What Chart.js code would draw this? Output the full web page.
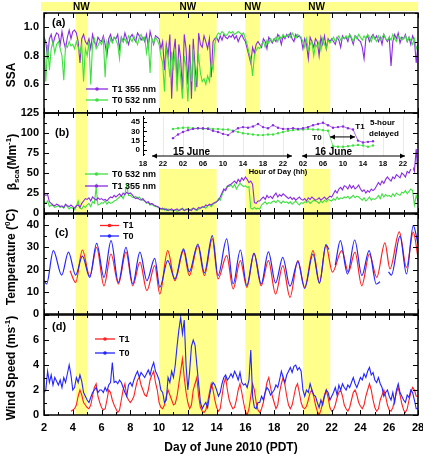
<!DOCTYPE html>
<html><head><meta charset="utf-8">
<script src="https://cdn.jsdelivr.net/npm/chart.js@4.4.1/dist/chart.umd.min.js"></script>
<style>
html,body{margin:0;padding:0;background:#fff;}
#wrap{position:relative;width:423px;height:456px;overflow:hidden;background:#fff;font-family:"Liberation Sans",Arial,sans-serif;}
canvas{position:absolute;left:0;}
.yt{position:absolute;white-space:nowrap;font-weight:bold;font-size:12px;line-height:14px;transform:translate(-50%,-50%) rotate(-90deg);color:#000;}
.yt sub,.yt sup{font-size:8px;line-height:0;}
</style></head>
<body><div id="wrap">
<canvas id="cA" width="423" height="125" style="top:0px"></canvas>
<canvas id="cB" width="423" height="124" style="top:101px"></canvas>
<canvas id="cC" width="423" height="124" style="top:202px"></canvas>
<canvas id="cD" width="423" height="153" style="top:303px"></canvas>
<canvas id="cI" width="305" height="66" style="top:112px;left:118px"></canvas>
<div class="yt" style="left:11px;top:75px">SSA</div>
<div class="yt" style="left:12px;top:162px">&beta;<sub>sca</sub>(Mm<sup>-1</sup>)</div>
<div class="yt" style="left:11px;top:257px">Temperature (<sup>0</sup>C)</div>
<div class="yt" style="left:11px;top:368px">Wind Speed (ms<sup>-1</sup>)</div>
</div>
<script>
// ---------------- DATA ----------------
// 3-hourly samples starting at day 2.0 of June 2010
const sampleStart = 2, sampleStep = 0.125;
const dayLabels = [2,4,6,8,10,12,14,16,18,20,22,24,26,28];
const nwStart = [4.2, 10.0, 16.0, 20.0];
const nwEnd   = [5.0, 14.0, 17.0, 21.9];
const nwLabel = 'NW';

const ssaTicks = [0.6, 0.8, 1.0];
const bscaTicks = [0, 25, 50, 75, 100, 125];
const tempTicks = [0, 10, 20, 30, 40];
const windTicks = [0, 2, 4, 6];

const ssaT1 = [
.93,.90,.78,.92,.95,.88,.93,.96,
.95,.88,.97,.90,.85,.93,.98,.92,
.97,.98,.96,.90,.75,.92,.95,.90,
.88,.92,.85,.95,.90,.87,.93,.91,
.90,.94,.88,.80,.92,.95,.90,.93,
.92,.95,.85,.93,.90,.96,.92,.88,
.93,.95,.92,.90,.96,.94,.91,.93,
.90,.95,.86,.97,.92,.88,.94,.93,
.92,.85,.90,.70,.88,.80,.95,.50,
.82,.92,.60,.88,.78,.55,.95,.85,
.60,.88,.50,.92,.72,.58,.96,.88,
.86,.94,.90,.85,.92,.65,.90,.92,
.93,.90,.94,.91,.95,.93,.92,.94,
.93,.95,.92,.94,.90,.93,.95,.92,
.90,.85,.80,.75,.86,.82,.88,.90,
.88,.86,.92,.90,.85,.93,.91,.89,
.92,.90,.95,.93,.88,.94,.92,.95,
.93,.96,.92,.90,.95,.93,.94,.92,
.85,.92,.88,.78,.93,.90,.86,.92,
.90,.80,.93,.88,.94,.85,.92,.90,
.92,.90,.88,.93,.91,.86,.94,.92,
.93,.90,.95,.92,.88,.94,.93,.91,
.90,.86,.78,.92,.94,.90,.93,.95,
.92,.94,.90,.93,.88,.95,.92,.90,
.93,.73,.90,.95,.92,.96,.89,.93,
.92,.95,.90,.93,.88,.94,.91,.75,
.88];
const ssaT0 = [
.93,.62,.88,.70,.85,.90,.82,.88,
.90,.85,.80,.63,.88,.86,.90,.87,
.88,.85,.90,.86,.82,.88,.62,.85,
.80,.90,.60,.88,.92,.85,.87,.90,
.88,.92,.65,.90,.86,.92,.89,.93,
.91,.88,.78,.93,.90,.92,.89,.94,
.92,.90,.94,.91,.88,.93,.95,.91,
.93,.82,.90,.68,.92,.89,.93,.91,
.88,.80,.75,.55,.85,.78,.65,.83,
.70,.85,.55,.78,.65,.50,.80,.72,
.48,.75,.62,.85,.55,.70,.80,.68,
.62,.64,.60,.66,.62,.75,.70,.88,
.94,.96,.95,.97,.96,.94,.95,.97,
.96,.97,.95,.96,.97,.96,.95,.96,
.92,.88,.82,.78,.66,.80,.84,.86,
.85,.88,.90,.86,.91,.89,.92,.90,
.91,.93,.90,.94,.92,.95,.93,.94,
.95,.93,.96,.94,.92,.95,.94,.93,
.90,.86,.92,.84,.88,.90,.80,.88,
.86,.90,.84,.92,.88,.85,.91,.89,
.91,.93,.90,.92,.94,.91,.93,.92,
.94,.92,.95,.93,.90,.94,.92,.95,
.93,.91,.94,.92,.95,.93,.90,.94,
.92,.90,.94,.91,.93,.95,.92,.91,
.93,.91,.95,.92,.90,.94,.93,.91,
.92,.94,.90,.93,.91,.88,.92,.85,
.88];

const bscaT0 = [
14,12,15,8,10,9,7,8,
9,7,8,6,10,8,5,7,
6,4,8,15,6,5,9,7,
10,12,8,14,12,32,10,11,
13,12,15,11,14,12,13,15,
16,18,20,22,18,24,35,22,
22,20,19,21,18,20,17,16,
15,12,13,10,11,9,8,8,
6,5,4,6,3,5,4,3,
3,4,2,3,5,4,3,5,
4,3,5,6,4,3,5,6,
7,8,6,9,10,8,11,12,
14,18,16,22,28,30,34,33,
35,32,36,30,34,37,35,33,
34,32,33,6,5,7,5,6,
5,10,12,14,11,13,12,14,
15,13,16,14,12,15,13,14,
12,14,11,13,15,12,10,13,
12,14,13,15,12,14,16,15,
14,12,15,13,16,14,17,16,
15,18,16,20,17,19,18,20,
19,21,18,20,22,19,21,20,
18,16,19,15,17,20,16,18,
17,19,22,18,24,20,23,21,
22,20,24,21,25,23,22,26,
25,28,24,27,30,28,10,22,
15];
const bscaT1 = [
24,22,23,14,12,10,9,11,
10,8,9,7,11,9,8,10,
8,6,9,10,7,12,15,18,
17,19,15,20,18,16,19,17,
18,16,17,15,18,20,19,22,
20,22,24,21,25,23,26,24,
25,23,20,18,19,17,16,18,
15,13,14,11,12,10,9,8,
7,5,6,4,5,3,4,5,
3,4,5,3,4,6,3,4,
5,4,3,6,5,4,7,6,
8,7,10,9,11,10,12,13,
14,16,20,25,30,28,33,35,
36,38,40,37,42,39,44,41,
45,42,38,40,36,13,12,15,
15,18,20,17,22,19,21,18,
22,25,20,23,21,24,22,20,
18,20,17,19,16,18,20,17,
16,18,15,19,17,20,18,16,
17,19,16,18,20,17,19,21,
20,24,28,25,30,32,29,34,
33,30,35,31,34,30,32,35,
30,27,29,25,28,26,30,28,
30,34,38,35,40,37,42,45,
42,40,45,43,48,46,44,50,
48,45,52,50,55,58,52,80,
48];

const tDaysT0 = [2.0,2.18,2.65,3.23,3.7,4.2,4.67,5.18,5.66,6.17,6.66,7.17,7.7,8.17,8.67,9.15,9.7,10.05,10.6,11.1,11.7,12.1,12.7,13.15,13.7,14.1,14.7,15.15,15.65,16.1,16.6,17.1,17.6,18.1,18.6,19.1,19.65,20.12,20.7,21.15,21.6,21.8,22.0,22.25,22.6,23.1,23.6,24.1,24.6,25.1,25.36,25.6,25.95,26.15,26.75,27.2,27.67,28.0];
const tempT0 = [15,13.5,28.5,17.5,27.8,17.5,26,16.5,31.8,16.5,33,14.2,30,13.5,27.8,15,25,12,24,15.8,29.3,19,31.5,18.5,35.3,17.3,33.8,13.5,28.8,12.8,27.3,13.5,28,14,25.5,12.5,23.6,11.5,27,13.8,31.2,29,null,22,33,18,33.3,17.3,28.5,13.5,14.5,null,19,17.5,35,18,39.8,31.5];
const tDaysT1 = [3.81,4.2,4.67,5.18,5.66,6.17,6.66,7.17,7.7,8.17,8.67,9.15,9.7,10.05,10.6,11.1,11.7,12.1,12.7,13.15,13.7,14.1,14.7,15.15,15.65,16.1,16.6,17.1,17.6,18.1,18.6,19.1,19.65,20.12,20.7,21.15,21.6,22.05,22.7,23.16,23.62,24.09,24.62,25.13,25.7,26.05,26.7,27.2,27.67,28.0];
const tempT1 = [19.5,14.2,28.8,17,30,12.7,27,13.5,27.8,12.7,23.3,10.5,21.8,9,28.5,15,28.5,17.3,30.8,17.3,33.8,15.8,26.3,11.3,24,12,27.3,12.7,24,9,21.8,7.5,24,12,28.5,14.2,30.8,18.8,28.5,18.8,27.8,12.7,27,16.5,32,20.3,37,21,36.8,25.5];

const windT0 = [
1.8,2.0,3.5,2.6,3.2,2.4,3.0,2.7,
2.4,2.8,2.2,3.0,2.6,3.3,4.0,3.2,
2.0,2.2,3.0,2.6,3.2,2.7,1.8,1.5,
1.2,1.0,1.4,1.8,2.0,2.2,1.8,2.0,
2.0,1.8,2.2,1.9,2.4,2.6,4.2,2.6,
2.7,2.5,2.8,2.6,2.2,1.8,1.5,2.4,
2.6,2.3,2.8,3.2,3.5,3.0,3.4,3.2,
3.0,3.3,3.6,3.2,3.8,4.2,3.5,3.2,
2.8,2.0,1.8,1.0,1.2,3.0,2.6,3.5,
3.0,4.0,5.5,6.8,7.8,6.5,7.6,4.0,
2.0,3.5,5.5,6.0,5.6,4.0,2.5,1.0,
0.5,0.8,1.0,0.6,1.5,2.2,2.6,2.4,
2.0,1.5,1.8,2.5,3.0,3.2,2.8,3.0,
3.3,3.0,3.5,3.2,2.8,3.4,2.6,2.4,
2.5,2.2,2.8,5.2,1.5,0.6,0.5,1.0,
1.0,1.5,1.2,1.8,2.2,2.0,1.6,1.8,
2.0,2.4,2.2,2.8,3.5,3.0,2.6,3.2,
3.5,3.8,3.4,3.9,4.0,3.6,3.8,3.5,
2.0,1.5,2.0,1.8,2.5,2.0,1.6,1.5,
1.0,0.6,1.2,0.8,1.5,2.0,1.8,1.2,
1.5,1.8,2.2,1.6,2.4,2.0,2.5,2.2,
2.0,2.4,2.2,2.6,3.0,2.5,2.2,2.6,
3.0,2.8,3.3,3.0,3.5,3.8,3.2,3.4,
2.8,2.6,3.0,2.5,2.2,1.5,1.8,2.0,
1.5,1.2,1.8,1.0,2.0,2.5,1.8,1.5,
1.2,1.0,1.6,1.4,2.0,1.8,1.2,0.5,
0.5];
const windT1 = [
null,null,null,null,null,null,null,null,
null,null,null,null,null,null,null,0.3,
0.4,0.5,0.8,1.5,2.0,1.6,1.0,0.8,
0.6,0.5,0.8,1.5,2.2,2.5,1.5,1.0,
0.6,0.4,0.5,1.2,2.0,1.8,1.2,0.8,
0.5,0.2,0.4,1.2,2.0,2.5,1.5,1.2,
1.0,1.2,1.5,2.2,2.8,3.0,2.4,2.0,
1.6,1.5,2.0,2.8,3.2,3.5,2.6,2.0,
1.0,0.6,0.5,0.8,1.5,2.0,1.6,1.2,
0.8,0.9,1.5,2.5,3.5,4.5,3.0,1.8,
1.0,0.5,0.8,2.0,2.5,3.0,1.5,0.6,
0.3,0.2,0.4,1.0,1.8,2.5,2.0,1.2,
0.6,0.3,0.5,1.5,2.5,3.0,2.0,1.2,
0.8,0.5,0.6,1.2,2.0,2.5,1.8,1.0,
0.3,0.0,0.5,1.5,2.5,2.0,1.0,0.4,
0.2,0.5,1.0,1.8,2.6,3.0,2.2,1.5,
1.0,0.5,0.8,1.8,2.5,3.0,2.4,1.5,
0.8,0.5,0.8,1.5,2.2,2.5,1.8,1.0,
0.6,0.5,0.7,1.2,1.8,2.0,1.5,0.8,
0.3,0.0,0.4,1.0,1.6,2.0,1.4,0.6,
0.3,0.4,0.8,1.4,1.8,2.0,1.5,0.8,
0.5,0.3,0.6,1.2,1.8,2.0,1.6,1.0,
0.7,0.5,0.8,1.5,2.0,2.5,2.0,1.2,
0.6,0.3,0.5,1.2,1.6,2.0,1.5,0.8,
0.4,0.3,0.6,1.2,1.8,2.2,1.6,0.9,
0.4,0.2,0.5,1.2,1.8,2.2,2.0,1.5,
1.5];

// inset: hours since 14 June 00:00
const insetHours = [24,25,26,27,28,29,30,31,32,33,34,35,36,37,38,39,40,41,42,43,44,45,46,47,48,49,50,51,52,53,54,55,56,57,58,59,60,61,62,63,64];
const insetT0 = [34,35,36,36,35,35,34,35,34,34,33,33,31,29,27,26,25,24,24,25,25,27,29,31,32,33,33,34,33,33,32,31,6,5,5,6,7,8,7,5,7];
const insetT1 = [19,25,29,32,34,35,35,34,31,29,26,24,30,35,37,36,38,42,37,35,40,36,34,34,35,34,35,37,40,42,44,40,36,37,38,35,33,15,12,13,14];
const insetTickHours = [18,22,26,30,34,38,42,46,50,54,58,62,66,70];
const insetYTicks = [0, 15, 30, 45];

// ---------------- STYLE ----------------
const FONT = '"Liberation Sans", Arial, sans-serif';
const YELLOW = '#ffff8c';
const PURPLE = '#8a2be2', GREEN = '#3fe03f', RED = '#ff2020', BLUE = '#2424ff';
Chart.defaults.font.family = FONT;
Chart.defaults.font.weight = 'bold';
Chart.defaults.color = '#000';

const sampleDays = ssaT1.map((_, i) => sampleStart + i * sampleStep);
const pts = (days, vals) => days.map((d, i) => ({x: d, y: vals[i]}));

const deco = {
  cA: {label:'(a)', lx:8, ly:10, topBar:true, major:[0.4,0.6,0.8,1.0], minorFrom:0.4, minorStep:0.1, minorN:7,
       legend:[{text:'T1 355 nm', color:PURPLE, x0:42, x1:64, y:76},{text:'T0 532 nm', color:GREEN, x0:42, x1:64, y:87}]},
  cB: {label:'(b)', lx:11, ly:20, major:bscaTicks, minorFrom:0, minorStep:12.5, minorN:10,
       legend:[{text:'T0 532 nm', color:GREEN, x0:41, x1:64, y:61},{text:'T1 355 nm', color:PURPLE, x0:41, x1:64, y:73}]},
  cC: {label:'(c)', lx:11, ly:19, major:[0,10,20,30,40], minorFrom:0, minorStep:5, minorN:9,
       legend:[{text:'T1', color:RED, x0:56, x1:75, y:11.5},{text:'T0', color:BLUE, x0:56, x1:75, y:22}]},
  cD: {label:'(d)', lx:8, ly:12, major:[0,2,4,6,8], minorFrom:0, minorStep:1, minorN:8,
       legend:[{text:'T1', color:RED, x0:51, x1:71, y:24},{text:'T0', color:BLUE, x0:51, x1:71, y:38}]}
};

const panelPlugin = {
  id: 'panelDeco',
  beforeDatasetsDraw(chart) {
    const {ctx, chartArea: ca, scales: {x}} = chart;
    ctx.save();
    ctx.fillStyle = YELLOW;
    nwStart.forEach((s, i) => {
      const x0 = x.getPixelForValue(s), x1 = x.getPixelForValue(nwEnd[i]);
      ctx.fillRect(x0, ca.top, x1 - x0, ca.bottom - ca.top);
    });
    ctx.restore();
  },
  afterDatasetsDraw(chart) {
    const o = deco[chart.canvas.id];
    const {ctx, chartArea: ca, scales: {x, y}} = chart;
    ctx.save();
    ctx.strokeStyle = '#000'; ctx.lineWidth = 1;
    ctx.beginPath();
    for (let d = 2; d <= 28; d++) {
      const px = Math.round(x.getPixelForValue(d)) + 0.5;
      const len = d % 2 === 0 ? 5 : 3;
      ctx.moveTo(px, ca.bottom); ctx.lineTo(px, ca.bottom - len);
      ctx.moveTo(px, ca.top); ctx.lineTo(px, ca.top + len);
    }
    for (let k = 0; k <= o.minorN; k++) {
      const v = o.minorFrom + k * o.minorStep;
      const py = Math.round(y.getPixelForValue(v)) + 0.5;
      const major = o.major.some(m => Math.abs(m - v) < 1e-6);
      const len = major ? 5 : 3;
      ctx.moveTo(ca.left, py); ctx.lineTo(ca.left + len, py);
      ctx.moveTo(ca.right, py); ctx.lineTo(ca.right - len, py);
    }
    ctx.stroke();
    ctx.lineWidth = 1.5;
    ctx.strokeRect(ca.left, ca.top, ca.right - ca.left, ca.bottom - ca.top);
    ctx.fillStyle = '#000';
    ctx.font = 'bold 11px ' + FONT;
    ctx.textBaseline = 'middle'; ctx.textAlign = 'left';
    ctx.fillText(o.label, ca.left + o.lx, ca.top + o.ly);
    ctx.font = 'bold 9px ' + FONT;
    o.legend.forEach(it => {
      const yy = ca.top + it.y;
      ctx.strokeStyle = it.color; ctx.lineWidth = 1.3;
      ctx.beginPath(); ctx.moveTo(ca.left + it.x0, yy); ctx.lineTo(ca.left + it.x1, yy); ctx.stroke();
      ctx.fillStyle = it.color;
      ctx.beginPath(); ctx.arc(ca.left + (it.x0 + it.x1) / 2, yy, 1.8, 0, Math.PI * 2); ctx.fill();
      ctx.fillStyle = '#000';
      ctx.fillText(it.text, ca.left + it.x1 + 4, yy + 0.5);
    });
    if (o.topBar) {
      ctx.fillStyle = YELLOW;
      ctx.fillRect(ca.left - 3, 2, ca.right - ca.left + 3, 9);
      ctx.fillStyle = '#000';
      ctx.font = 'bold 10px ' + FONT;
      ctx.textAlign = 'center';
      nwStart.forEach((s, i) => {
        ctx.fillText(nwLabel, x.getPixelForValue((s + nwEnd[i]) / 2), 7);
      });
    }
    ctx.restore();
  }
};

function yAxis(min, max, ticks, fmt) {
  return {
    min, max,
    afterBuildTicks: s => { s.ticks = ticks.map(v => ({value: v})); },
    afterFit: s => { s.width = 44; s.paddingTop = 0; s.paddingBottom = 0; },
    grid: {display: false, drawTicks: false}, border: {display: false},
    ticks: {padding: 5, autoSkip: false, color: '#000', font: {size: 11, weight: 'bold', family: FONT}, callback: v => fmt(v)}
  };
}
const hiddenX = {type: 'linear', min: 2, max: 28, display: false};

function panel(id, datasets, y, padTop, padBottom, x) {
  return new Chart(document.getElementById(id), {
    type: 'line',
    data: {datasets},
    options: {
      responsive: false, animation: false, events: [],
      layout: {padding: {top: padTop, bottom: padBottom, left: 0, right: 5}},
      plugins: {legend: {display: false}, tooltip: {enabled: false}},
      scales: {x: x || hiddenX, y},
      elements: {point: {radius: 0}}
    },
    plugins: [panelPlugin]
  });
}
const ds = (data, color, w, extra) => Object.assign({data, borderColor: color, backgroundColor: color, borderWidth: w, pointRadius: 0, spanGaps: false}, extra || {});

panel('cA', [
  ds(pts(sampleDays, ssaT0), GREEN, 1.1),
  ds(pts(sampleDays, ssaT1), PURPLE, 1.1)
], yAxis(0.4, 1.1, ssaTicks, v => v.toFixed(1)), 13, 12);

panel('cB', [
  ds(pts(sampleDays, bscaT1), PURPLE, 1.1),
  ds(pts(sampleDays, bscaT0), GREEN, 1.1)
], yAxis(0, 125, bscaTicks, v => String(v)), 12, 12);

panel('cC', [
  ds(pts(tDaysT0, tempT0), BLUE, 1.2, {cubicInterpolationMode: 'monotone'}),
  ds(pts(tDaysT1, tempT1), RED, 1.2, {cubicInterpolationMode: 'monotone'})
], yAxis(0, 45, tempTicks, v => String(v)), 12, 12);

panel('cD', [
  ds(pts(sampleDays, windT0), BLUE, 1.1),
  ds(pts(sampleDays, windT1), RED, 1.1)
], yAxis(0, 8, windTicks, v => String(v)), 12, 0, {
  type: 'linear', min: 2, max: 28,
  afterBuildTicks: s => { s.ticks = dayLabels.map(v => ({value: v})); },
  afterFit: s => { s.height = 41; s.paddingLeft = 0; s.paddingRight = 0; },
  grid: {display: false, drawTicks: false}, border: {display: false},
  ticks: {padding: 6, autoSkip: false, maxRotation: 0, color: '#000', font: {size: 11, weight: 'bold', family: FONT}},
  title: {display: true, text: 'Day of June 2010 (PDT)', color: '#000', font: {size: 12, weight: 'bold', family: FONT}, padding: {top: 0, bottom: 1}}
});

// ---------------- INSET ----------------
function arrow(ctx, xa, xb, yy) {
  ctx.beginPath(); ctx.moveTo(xa, yy); ctx.lineTo(xb, yy); ctx.stroke();
  ctx.beginPath(); ctx.moveTo(xa, yy); ctx.lineTo(xa + 5, yy - 2.5); ctx.lineTo(xa + 5, yy + 2.5); ctx.closePath(); ctx.fill();
  ctx.beginPath(); ctx.moveTo(xb, yy); ctx.lineTo(xb - 5, yy - 2.5); ctx.lineTo(xb - 5, yy + 2.5); ctx.closePath(); ctx.fill();
}
const insetPlugin = {
  id: 'insetDeco',
  beforeDraw(chart) {
    const ctx = chart.ctx;
    ctx.save(); ctx.fillStyle = '#fff'; ctx.fillRect(0, 1.8, 295, 55.2); ctx.restore();
  },
  afterDatasetsDraw(chart) {
    const {ctx, chartArea: ca, scales: {x, y}} = chart;
    ctx.save();
    ctx.strokeStyle = '#000'; ctx.fillStyle = '#000'; ctx.lineWidth = 1;
    ctx.beginPath();
    ctx.moveTo(ca.left + 0.5, ca.top); ctx.lineTo(ca.left + 0.5, ca.bottom);
    for (let k = -1; k <= 7; k++) {
      const v = k * 7.5;
      const py = Math.round(y.getPixelForValue(v)) + 0.5;
      const len = k % 2 === 0 ? 4 : 2;
      ctx.moveTo(ca.left, py); ctx.lineTo(ca.left + len, py);
    }
    ctx.stroke();
    const yb = ca.bottom;
    arrow(ctx, x.getPixelForValue(19.8), x.getPixelForValue(47.8), yb);
    arrow(ctx, x.getPixelForValue(49.8), x.getPixelForValue(70.4), yb);
    arrow(ctx, x.getPixelForValue(55.4), x.getPixelForValue(60.4), y.getPixelForValue(21));
    ctx.textBaseline = 'middle';
    ctx.font = 'bold 10px ' + FONT; ctx.textAlign = 'center';
    ctx.fillText('15 June', x.getPixelForValue(27.7), y.getPixelForValue(-3.4));
    ctx.fillText('16 June', x.getPixelForValue(56.1), y.getPixelForValue(-3.4));
    ctx.font = 'bold 8px ' + FONT;
    ctx.fillText('T1', x.getPixelForValue(61.4), y.getPixelForValue(38));
    ctx.fillText('T0', x.getPixelForValue(52.8), y.getPixelForValue(19.4));
    ctx.textAlign = 'left';
    ctx.fillText('5-hour', x.getPixelForValue(63.4), y.getPixelForValue(44.2));
    ctx.fillText('delayed', x.getPixelForValue(63.2), y.getPixelForValue(26.4));
    ctx.restore();
  }
};
new Chart(document.getElementById('cI'), {
  type: 'line',
  data: {datasets: [
    {data: pts(insetHours, insetT1), borderColor: PURPLE, backgroundColor: PURPLE, borderWidth: 0.7, pointRadius: 1.2, pointBorderWidth: 0},
    {data: pts(insetHours, insetT0), borderColor: GREEN, backgroundColor: GREEN, borderWidth: 0.7, pointRadius: 1.2, pointBorderWidth: 0}
  ]},
  options: {
    responsive: false, animation: false, events: [],
    layout: {padding: {top: 2, bottom: 0, left: 0, right: 10}},
    plugins: {legend: {display: false}, tooltip: {enabled: false}},
    scales: {
      x: {type: 'linear', min: 18, max: 72,
        afterBuildTicks: s => { s.ticks = insetTickHours.map(v => ({value: v})); },
        afterFit: s => { s.height = 22; s.paddingLeft = 0; s.paddingRight = 0; },
        grid: {display: true, drawTicks: false, color: '#e4e4e4', lineWidth: 0.8}, border: {display: false},
        ticks: {padding: 3, autoSkip: false, maxRotation: 0, color: '#000', font: {size: 7.5, weight: 'bold', family: FONT},
          callback: v => String(((v % 24) + 24) % 24).padStart(2, '0')},
        title: {display: true, text: 'Hour of Day (hh)', color: '#000', font: {size: 7.5, weight: 'bold', family: FONT}, padding: {top: 0, bottom: 1.5}}
      },
      y: {min: -10, max: 55,
        afterBuildTicks: s => { s.ticks = insetYTicks.map(v => ({value: v})); },
        afterFit: s => { s.width = 25; s.paddingTop = 0; s.paddingBottom = 0; },
        grid: {display: false, drawTicks: false}, border: {display: false},
        ticks: {padding: 3, autoSkip: false, color: '#000', font: {size: 8, weight: 'bold', family: FONT}}
      }
    }
  },
  plugins: [insetPlugin]
});
</script>
</body></html>
